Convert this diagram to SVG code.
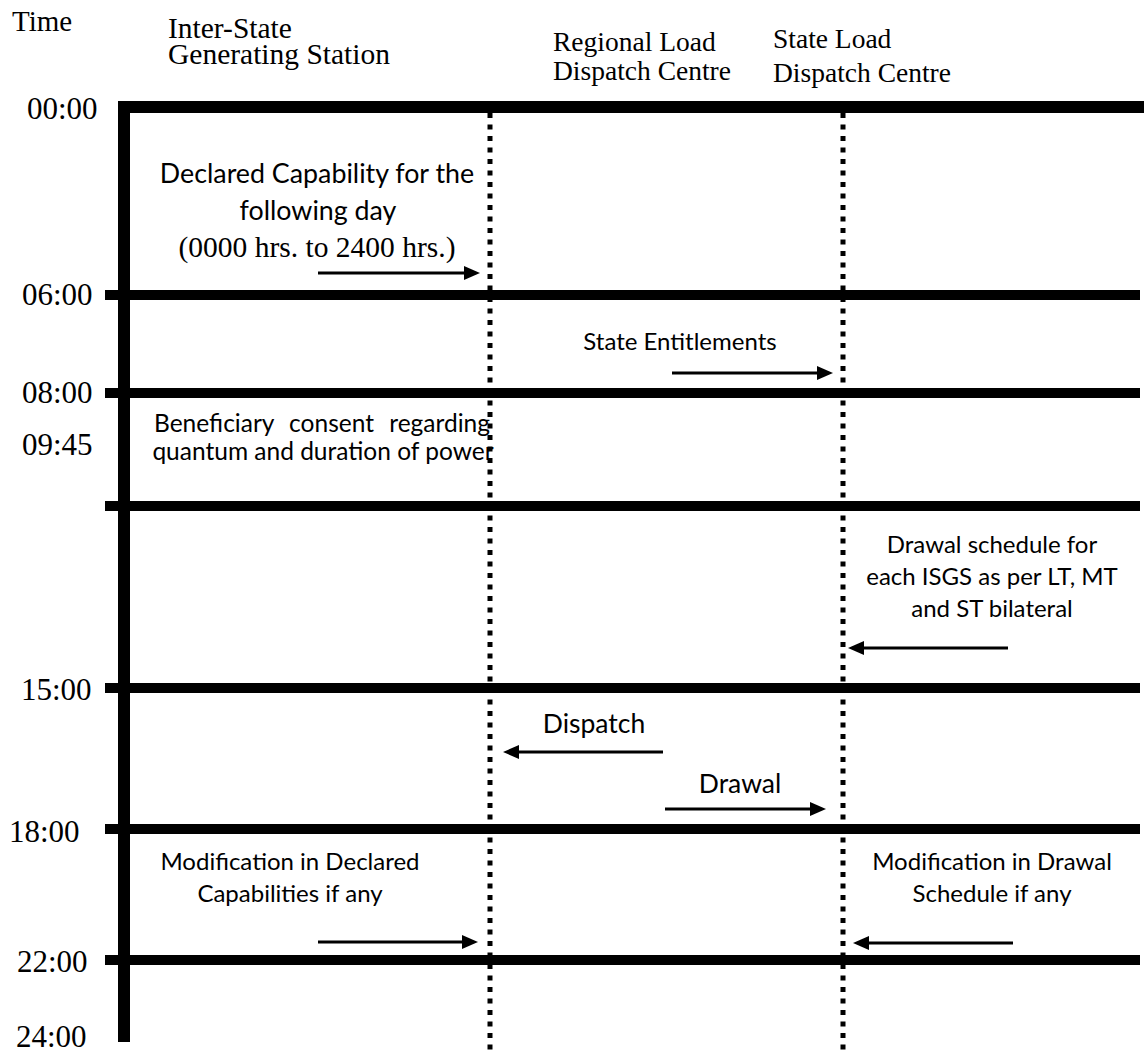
<svg xmlns="http://www.w3.org/2000/svg" width="1144" height="1055" viewBox="0 0 1144 1055">
  <style>
    .bg { fill: #ffffff; }
    .axis { stroke: #000; stroke-width: 12; fill: none; }
    .slot { stroke: #000; stroke-width: 10; fill: none; }
    .lane { stroke: #000; stroke-width: 5; stroke-dasharray: 5 6.5; fill: none; }
    .flow { stroke: #000; stroke-width: 3; fill: none; }
    .serif { font-family: "Liberation Serif", "Times New Roman", serif; fill: #000; }
    .time { font-size: 31px; }
    .note { font-family: Lato, "Open Sans", sans-serif; fill: #000; text-anchor: middle; }
  </style>
  <defs>
    <marker id="head" viewBox="0 0 16 14" refX="4" refY="7" markerWidth="16" markerHeight="14" markerUnits="userSpaceOnUse" orient="auto">
      <path d="M0,0 L16,7 L0,14 z" fill="#000"/>
    </marker>
  </defs>

  <rect class="bg" x="0" y="0" width="1144" height="1055"/>

  <!-- column headings -->
  <g id="headings" class="serif">
    <text x="12" y="31" font-size="29">Time</text>
    <g id="col-isgs" font-size="29.5">
      <text x="168" y="38">Inter-State</text>
      <text x="168" y="64">Generating Station</text>
    </g>
    <g id="col-rldc" font-size="27.5">
      <text x="553" y="51">Regional Load</text>
      <text x="553" y="80">Dispatch Centre</text>
    </g>
    <g id="col-sldc" font-size="27.5">
      <text x="773" y="48">State Load</text>
      <text x="773" y="82">Dispatch Centre</text>
    </g>
  </g>

  <!-- time axis and time slots -->
  <g id="axis">
    <path class="axis" d="M124,102 V1042"/>
    <path class="axis" d="M118,107 H1144" stroke-width="11"/>
    <path class="slot" d="M105,295 H1140"/>
    <path class="slot" d="M105,393 H1140"/>
    <path class="slot" d="M105,506 H1140"/>
    <path class="slot" d="M105,688 H1140"/>
    <path class="slot" d="M105,829 H1140"/>
    <path class="slot" d="M105,960 H1140"/>
  </g>

  <g id="time-labels" class="serif time">
    <text x="27" y="119">00:00</text>
    <text x="22" y="305">06:00</text>
    <text x="22" y="403">08:00</text>
    <text x="22" y="455">09:45</text>
    <text x="21" y="700">15:00</text>
    <text x="9" y="842">18:00</text>
    <text x="17" y="972">22:00</text>
    <text x="16" y="1047">24:00</text>
  </g>

  <!-- lifelines of the RLDC and SLDC -->
  <g id="lanes">
    <path class="lane" d="M490,113 V1055"/>
    <path class="lane" d="M843,113 V1055"/>
  </g>

  <!-- messages -->
  <g id="msg-declared-capability">
    <text class="note" x="317" y="183" font-size="26.8">Declared Capability for the</text>
    <text class="note" x="318" y="220" font-size="26.8">following day</text>
    <text class="serif" x="317" y="257" font-size="29.5" text-anchor="middle">(0000 hrs. to 2400 hrs.)</text>
  </g>
  <g id="msg-state-entitlements">
    <text class="note" x="680" y="350" font-size="24">State Entitlements</text>
  </g>
  <g id="msg-beneficiary-consent">
    <text class="note" x="322" y="432" font-size="24.5" word-spacing="9">Beneficiary consent regarding</text>
    <text class="note" x="323" y="460" font-size="24.5">quantum and duration of power</text>
  </g>
  <g id="msg-drawal-schedule">
    <text class="note" x="992" y="553" font-size="24">Drawal schedule for</text>
    <text class="note" x="992" y="585" font-size="24">each ISGS as per LT, MT</text>
    <text class="note" x="992" y="617" font-size="24">and ST bilateral</text>
  </g>
  <g id="msg-dispatch">
    <text class="note" x="594" y="733" font-size="26.5">Dispatch</text>
  </g>
  <g id="msg-drawal">
    <text class="note" x="740" y="793" font-size="26.5">Drawal</text>
  </g>
  <g id="msg-modification-dc">
    <text class="note" x="290" y="870" font-size="24">Modification in Declared</text>
    <text class="note" x="290" y="902" font-size="24">Capabilities if any</text>
  </g>
  <g id="msg-modification-ds">
    <text class="note" x="992" y="870" font-size="24">Modification in Drawal</text>
    <text class="note" x="992" y="902" font-size="24">Schedule if any</text>
  </g>

  <!-- connectors -->
  <g id="connectors">
    <path class="flow" d="M318,273 H468" marker-end="url(#head)"/>
    <path class="flow" d="M672,373 H821" marker-end="url(#head)"/>
    <path class="flow" d="M1008,648 H860" marker-end="url(#head)"/>
    <path class="flow" d="M663,752 H515" marker-end="url(#head)"/>
    <path class="flow" d="M665,809 H814" marker-end="url(#head)"/>
    <path class="flow" d="M318,942 H466" marker-end="url(#head)"/>
    <path class="flow" d="M1013,943 H865" marker-end="url(#head)"/>
  </g>
</svg>
